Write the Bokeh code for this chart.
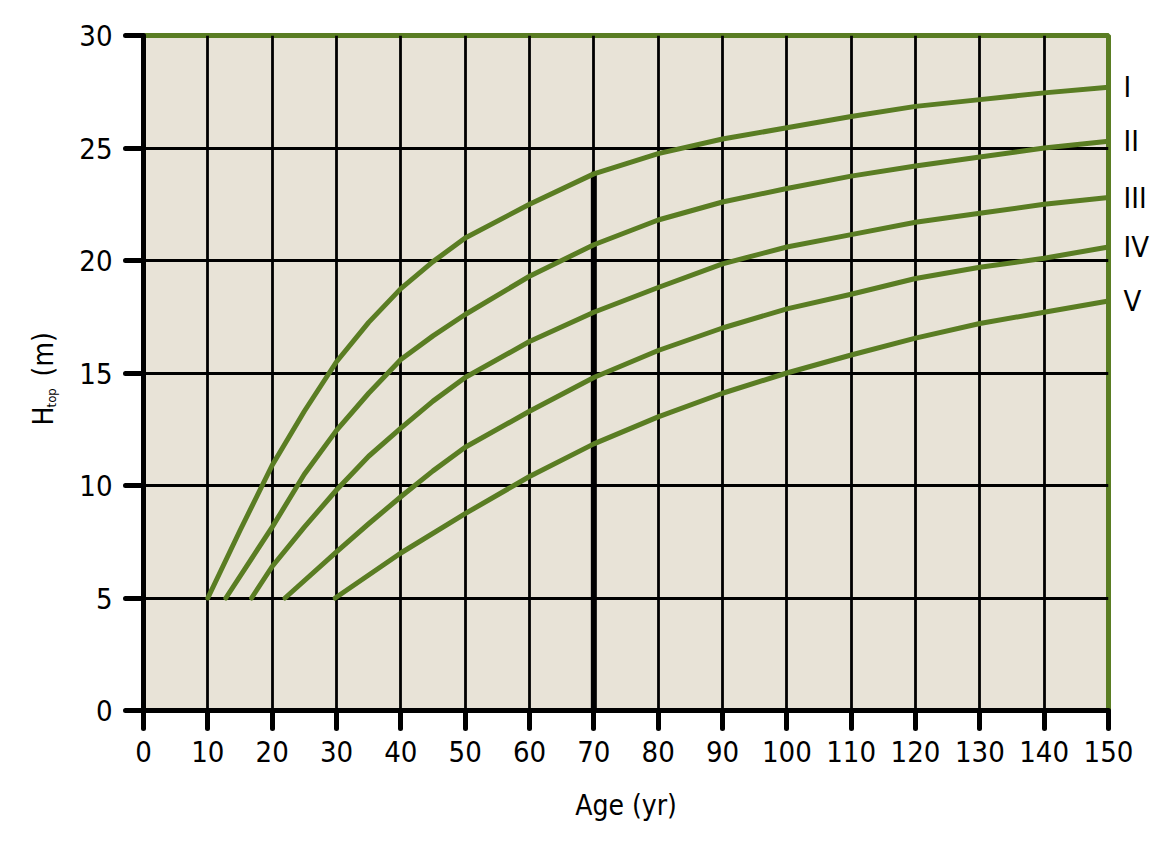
import math
from bokeh.plotting import figure
from bokeh.models import Range1d, FixedTicker, LinearAxis
from bokeh.layouts import row
from bokeh.core.properties import value
from bokeh.embed import file_html
from bokeh.resources import INLINE

# ---------------- data ----------------
ages_I = [10, 15, 20, 25, 30, 35, 40, 45, 50, 60, 70, 80, 90, 100, 110, 120, 130, 140, 150]
h_I = [5.0, 8.0, 10.9, 13.3, 15.5, 17.25, 18.75, 19.95, 21.0, 22.5, 23.85, 24.75, 25.4, 25.9, 26.4, 26.85, 27.15, 27.45, 27.7]

ages_II = [12.8, 20, 25, 30, 35, 40, 45, 50, 60, 70, 80, 90, 100, 110, 120, 130, 140, 150]
h_II = [5.0, 8.15, 10.5, 12.45, 14.1, 15.6, 16.65, 17.6, 19.3, 20.7, 21.8, 22.6, 23.2, 23.75, 24.2, 24.6, 25.0, 25.3]

ages_III = [16.8, 20, 25, 30, 35, 40, 45, 50, 60, 70, 80, 90, 100, 110, 120, 130, 140, 150]
h_III = [5.0, 6.4, 8.15, 9.8, 11.3, 12.55, 13.75, 14.8, 16.4, 17.7, 18.8, 19.85, 20.6, 21.15, 21.7, 22.1, 22.5, 22.8]

ages_IV = [22.0, 30, 35, 40, 45, 50, 60, 70, 80, 90, 100, 110, 120, 130, 140, 150]
h_IV = [5.0, 7.05, 8.3, 9.5, 10.65, 11.7, 13.3, 14.8, 16.0, 17.0, 17.85, 18.5, 19.2, 19.7, 20.1, 20.6]

ages_V = [29.8, 40, 50, 60, 70, 80, 90, 100, 110, 120, 130, 140, 150]
h_V = [5.0, 7.0, 8.75, 10.4, 11.85, 13.05, 14.1, 15.0, 15.8, 16.55, 17.2, 17.7, 18.2]

class_labels = ["I", "II", "III", "IV", "V"]
x_ticks = list(range(0, 151, 10))
y_ticks = list(range(0, 31, 5))
ref_age = 70

# ---------------- style ----------------
GREEN = "#5a7d23"
BG = "#e8e3d7"
FONT = "DejaVu Sans Condensed"

H_TOTAL = 836
TOP, BOTTOM = 35, 126

p = figure(width=1110, height=H_TOTAL, output_backend="svg", toolbar_location=None,
           x_range=Range1d(0, 150), y_range=Range1d(0, 30),
           min_border_left=83, min_border_right=62, min_border_top=TOP, min_border_bottom=BOTTOM)

p.background_fill_color = BG
p.border_fill_color = "white"
p.outline_line_color = GREEN
p.outline_line_width = 5

p.xgrid.ticker = FixedTicker(ticks=x_ticks[1:-1])
p.ygrid.ticker = FixedTicker(ticks=y_ticks[1:-1])
for g in (p.xgrid, p.ygrid):
    g.grid_line_color = "black"
    g.grid_line_width = 2.8
    g.grid_line_alpha = 1.0

p.xaxis.ticker = FixedTicker(ticks=x_ticks)
p.yaxis.ticker = FixedTicker(ticks=y_ticks)
for ax in (p.xaxis, p.yaxis):
    ax.axis_line_color = "black"
    ax.axis_line_width = 5
    ax.major_tick_line_color = "black"
    ax.major_tick_line_width = 5
    ax.major_tick_line_cap = "round"
    ax.major_tick_out = 18
    ax.major_tick_in = 0
    ax.minor_tick_line_color = None
    ax.major_label_text_font = FONT
    ax.major_label_text_font_size = "29px"
    ax.major_label_text_color = "black"
    ax.axis_label_text_font = FONT
    ax.axis_label_text_font_style = "normal"
    ax.axis_label_text_font_size = "28px"
    ax.axis_label_text_color = "black"
p.xaxis.major_label_standoff = 12
p.yaxis.major_label_standoff = 13
p.xaxis.axis_label = "Age (yr)"
p.xaxis.axis_label_standoff = 24

# class labels on a right-hand axis at the curve end heights
series = [(ages_I, h_I), (ages_II, h_II), (ages_III, h_III), (ages_IV, h_IV), (ages_V, h_V)]
ends = [ys[-1] for (_, ys) in series]
rax = LinearAxis(ticker=FixedTicker(ticks=ends),
                 major_label_overrides={e: lab for e, lab in zip(ends, class_labels)})
rax.axis_line_color = None
rax.major_tick_line_color = None
rax.minor_tick_line_color = None
rax.major_tick_out = 0
rax.major_tick_in = 0
rax.major_label_standoff = 15
rax.major_label_text_font = FONT
rax.major_label_text_font_size = "29px"
rax.major_label_text_color = "black"
p.add_layout(rax, "right")

# reference line at age 70 up to class I curve
h70 = h_I[ages_I.index(ref_age)]
p.segment(x0=[ref_age], y0=[0], x1=[ref_age], y1=[h70], line_color="black",
          line_width=6, line_cap="round")

for (xs, ys) in series:
    p.line(xs, ys, line_color=GREEN, line_width=5, line_join="round", line_cap="round")

# ---------------- left strip with the y-axis title H_top (m) ----------------
q = figure(width=60, height=H_TOTAL, output_backend="svg", toolbar_location=None,
           x_range=Range1d(0, 60), y_range=p.y_range, x_axis_type=None, y_axis_type=None,
           min_border_left=0, min_border_right=0, min_border_top=TOP, min_border_bottom=BOTTOM)
q.outline_line_color = None
q.background_fill_color = "white"
q.border_fill_color = "white"
q.xgrid.visible = False
q.ygrid.visible = False
q.text(x=[43], y=[12.67], text=["H"], angle=math.pi / 2, text_font=value(FONT),
       text_font_size="28px", text_baseline="alphabetic", text_align="left", text_color="black")
q.text(x=[51], y=[13.47], text=["top"], angle=math.pi / 2, text_font=value(FONT),
       text_font_size="13px", text_baseline="alphabetic", text_align="left", text_color="black")
q.text(x=[43], y=[14.85], text=["(m)"], angle=math.pi / 2, text_font=value(FONT),
       text_font_size="28px", text_baseline="alphabetic", text_align="left", text_color="black")

layout = row(q, p)
open("out.html", "w").write(file_html(layout, INLINE))
